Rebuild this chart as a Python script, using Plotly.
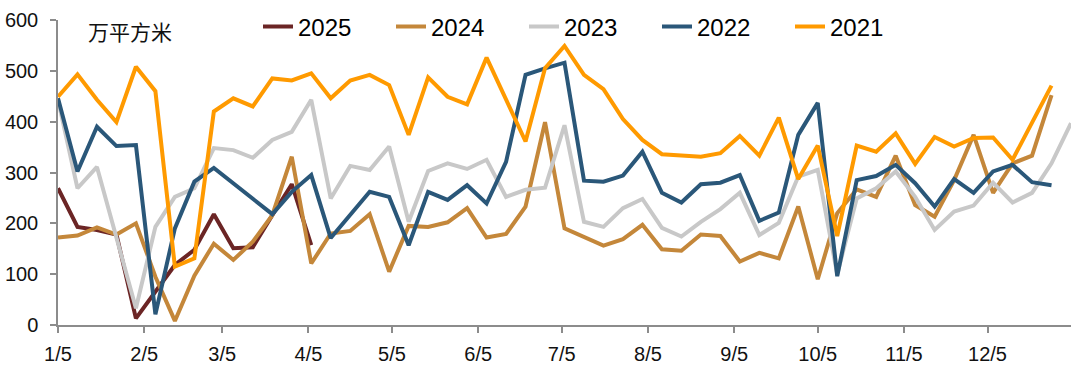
import pandas as pd
import plotly.graph_objects as go

# ---- data (万平方米, weekly) ----
years = ["2025", "2024", "2023", "2022", "2021"]

v2025 = [269, 193, 187, 178, 13, 65, 118, 148, 218, 151, 153, 216, 277, 157]

v2024 = [172, 176, 192, 178, 200, 95, 8, 97, 160, 128,
         164, 216, 331, 121, 180, 185, 218, 105, 195, 193,
         202, 230, 172, 179, 233, 399, 190, 174, 156, 169,
         197, 149, 146, 178, 175, 125, 142, 131, 233, 90,
         220, 267, 252, 333, 236, 213, 285, 374, 260, 318,
         333, 452]

v2023 = [443, 269, 311, 172, 33, 193, 252, 269, 348, 344,
         329, 364, 380, 443, 249, 313, 305, 351, 203, 303,
         318, 307, 325, 252, 266, 270, 393, 203, 193, 230,
         248, 191, 174, 203, 228, 260, 177, 201, 292, 305,
         100, 249, 269, 302, 252, 187, 223, 235, 280, 241,
         260, 318, 397]

v2022 = [446, 302, 390, 352, 354, 21, 190, 282, 309, 279,
         248, 218, 262, 295, 171, 216, 262, 252, 157, 262,
         246, 275, 239, 321, 492, 505, 516, 284, 282, 294,
         341, 260, 241, 277, 280, 295, 205, 221, 374, 437,
         96, 285, 293, 315, 279, 233, 287, 260, 302, 315,
         281, 275]

v2021 = [449, 493, 443, 399, 508, 460, 115, 131, 420, 446,
         430, 485, 481, 495, 446, 481, 492, 472, 374, 487,
         449, 434, 526, 443, 361, 505, 549, 492, 464, 405,
         364, 336, 334, 331, 338, 372, 333, 408, 287, 353,
         175, 353, 341, 377, 317, 370, 351, 368, 369, 325,
         398, 471]

tick_dates = ["2025-01-05", "2025-02-05", "2025-03-05", "2025-04-05",
              "2025-05-05", "2025-06-05", "2025-07-05", "2025-08-05",
              "2025-09-05", "2025-10-05", "2025-11-05", "2025-12-05"]
tick_labels = ["1/5", "2/5", "3/5", "4/5", "5/5", "6/5",
               "7/5", "8/5", "9/5", "10/5", "11/5", "12/5"]

colors = {"2025": "#6B2525", "2024": "#C4873A", "2023": "#C8C8C8",
          "2022": "#2A5779", "2021": "#FF9A00"}
series = {"2025": v2025, "2024": v2024, "2023": v2023, "2022": v2022, "2021": v2021}

fig = go.Figure()
for y in years:
    vals = series[y]
    x = pd.date_range("2025-01-05", periods=len(vals), freq="7D")
    fig.add_trace(go.Scatter(x=x, y=vals, mode="lines", name=y,
                             line=dict(color=colors[y], width=4)))

font_fam = "Liberation Sans, Arial, sans-serif"
fig.update_layout(
    width=1080, height=365,
    margin=dict(l=58, r=9, t=20, b=40, autoexpand=False),
    paper_bgcolor="white", plot_bgcolor="white",
    font=dict(family=font_fam, color="#111", size=20),
    showlegend=True,
    legend=dict(orientation="h", x=(258 - 58) / 1013, xanchor="left",
                y=(325 - 27) / 305, yanchor="middle",
                font=dict(size=24, family=font_fam, color="#000"),
                bgcolor="rgba(0,0,0,0)", entrywidth=88, entrywidthmode="pixels"),
    xaxis=dict(type="date", range=["2025-01-05", "2026-01-04"],
               tickvals=tick_dates, ticktext=tick_labels,
               showgrid=False, zeroline=False,
               showline=True, linecolor="#8c8c8c", linewidth=1.5,
               ticks="outside", ticklen=6, tickcolor="#8c8c8c", tickwidth=1.5,
               ticklabelstandoff=4,
               tickfont=dict(size=20, family=font_fam, color="#111")),
    yaxis=dict(range=[0, 600], tickvals=[0, 100, 200, 300, 400, 500, 600],
               showgrid=False, zeroline=False,
               showline=True, linecolor="#8c8c8c", linewidth=1.5,
               ticks="outside", ticklen=6, tickcolor="#8c8c8c", tickwidth=1.5,
               ticklabelstandoff=8,
               tickfont=dict(size=20, family=font_fam, color="#111")),
    annotations=[dict(text="万平方米", xref="paper", yref="paper",
                      x=(86 - 58) / 1013, y=(325 - 31) / 305, xanchor="left", yanchor="middle",
                      showarrow=False,
                      font=dict(size=21, family="Noto Sans CJK SC", color="#111"))],
)

fig.write_html("out.html", config={"displayModeBar": False},
               post_script="document.body.style.margin='0px';document.body.style.overflow='hidden';")
